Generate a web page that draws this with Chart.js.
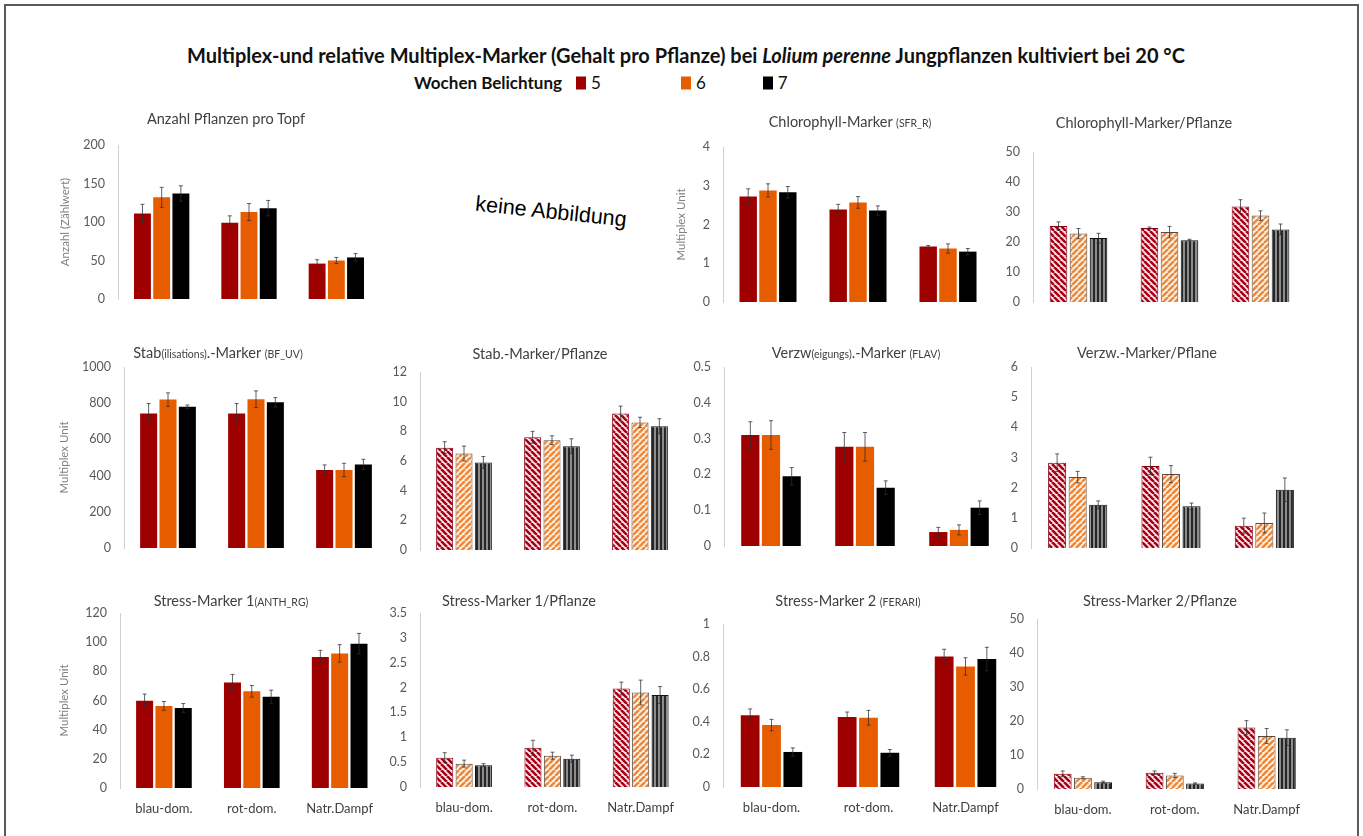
<!DOCTYPE html>
<html>
<head>
<meta charset="utf-8">
<script src="https://cdn.jsdelivr.net/npm/chart.js@4.4.1/dist/chart.umd.min.js"></script>
<style>
  html, body { margin: 0; padding: 0; background: #fff; }
  body { width: 1363px; height: 836px; position: relative; overflow: hidden; font-family: Lato, "Open Sans", sans-serif; }
  #frame { position: absolute; left: 4px; top: 4px; width: 1351px; height: 900px; border: 2px solid #5a5a5a; }
  .main-title { position: absolute; left: 686px; top: 55px; transform: translate(-50%, -50%); font-size: 20px; font-weight: 700; color: #111; white-space: nowrap; }
  .legend { position: absolute; top: 82px; left: 414px; transform: translateY(-50%); font-size: 17px; color: #111; white-space: nowrap; }
  .legend b { margin-right: 14px; }
  .legend .sw { display: inline-block; width: 10px; height: 13px; margin-right: 5px; vertical-align: -1px; }
  .legend .it { display: inline-block; }
  .ptitle { position: absolute; transform: translate(-50%, -50%); font-size: 14.5px; color: #404040; white-space: nowrap; }
  .ptitle .sm { font-size: 10.5px; }
  .chartbox { position: absolute; }
  #keine { position: absolute; left: 551px; top: 212px; transform: translate(-50%, -50%) rotate(6deg); font-family: "Liberation Sans", Arial, sans-serif; font-size: 21.5px; color: #000; white-space: nowrap; }
</style>
</head>
<body>
<div id="frame"></div>
<div class="main-title">Multiplex-und relative Multiplex-Marker (Gehalt pro Pflanze) bei <i>Lolium perenne</i> Jungpflanzen kultiviert bei 20 °C</div>
<div class="legend"><b>Wochen Belichtung</b><span class="it" style="margin-right:80px"><span class="sw" style="background:#9e0000"></span>5</span><span class="it" style="margin-right:57px"><span class="sw" style="background:#e85c00"></span>6</span><span class="it"><span class="sw" style="background:#000"></span>7</span></div>
<div id="keine">keine Abbildung</div>
<div id="charts"></div>

<script>
// ---- data (series order: 5, 6, 7 Wochen) ----
const categories = ['blau-dom.', 'rot-dom.', 'Natr.Dampf'];
const weeks = ['5', '6', '7'];

const anzahl = [[111, 99, 46], [132, 113, 50], [137, 118, 54]];
const anzahlErr = [[12, 9, 5], [13, 11, 4], [10, 10, 5]];

const chloro = [[2.72, 2.39, 1.43], [2.88, 2.57, 1.38], [2.83, 2.36, 1.30]];
const chloroErr = [[0.2, 0.13, 0.03], [0.17, 0.15, 0.12], [0.15, 0.12, 0.08]];

const chloroPfl = [[25.3, 24.7, 31.8], [22.8, 23.3, 28.8], [21.3, 20.6, 24.2]];
const chloroPflErr = [[1.4, 0.3, 2.3], [1.7, 1.9, 1.6], [1.6, 0.3, 1.8]];

const stab = [[743, 743, 431], [820, 822, 431], [780, 805, 462]];
const stabErr = [[55, 55, 28], [37, 46, 37], [10, 26, 28]];

const stabPfl = [[6.9, 7.6, 9.2], [6.5, 7.4, 8.6], [5.9, 7.0, 8.35]];
const stabPflErr = [[0.4, 0.4, 0.5], [0.5, 0.3, 0.35], [0.4, 0.5, 0.5]];

const verzw = [[0.31, 0.277, 0.039], [0.31, 0.277, 0.045], [0.195, 0.163, 0.107]];
const verzwErr = [[0.037, 0.04, 0.013], [0.04, 0.04, 0.014], [0.024, 0.019, 0.019]];

const verzwPfl = [[2.83, 2.72, 0.74], [2.35, 2.45, 0.83], [1.43, 1.38, 1.93]];
const verzwPflErr = [[0.29, 0.29, 0.25], [0.19, 0.28, 0.33], [0.13, 0.11, 0.39]];

const stress1 = [[59.9, 72.4, 89.9], [56.3, 66.3, 92.3], [54.9, 62.6, 99]];
const stress1Err = [[4.5, 5.5, 4.5], [3, 4, 6], [3, 4.5, 7]];

const stress1Pfl = [[0.59, 0.79, 1.98], [0.47, 0.63, 1.90], [0.44, 0.57, 1.85]];
const stress1PflErr = [[0.1, 0.15, 0.13], [0.07, 0.07, 0.25], [0.03, 0.07, 0.17]];

const stress2 = [[0.44, 0.43, 0.80], [0.38, 0.425, 0.74], [0.215, 0.21, 0.785]];
const stress2Err = [[0.039, 0.03, 0.045], [0.035, 0.045, 0.053], [0.025, 0.02, 0.072]];

const stress2Pfl = [[4.5, 4.8, 18.1], [3.3, 4.0, 15.6], [2.0, 1.6, 15.1]];
const stress2PflErr = [[0.8, 0.5, 2], [0.3, 0.6, 2.2], [0.3, 0.2, 2.3]];

// ---- colours / patterns ----
const solidColors = ['#9e0000', '#e85c00', '#000000'];

function stripes(bg, fg, dir, size, lw) {
  const c = document.createElement('canvas');
  c.width = c.height = size;
  const g = c.getContext('2d');
  g.fillStyle = bg;
  g.fillRect(0, 0, size, size);
  g.strokeStyle = fg;
  g.lineWidth = lw;
  g.beginPath();
  if (dir === 'v') {
    g.moveTo(size / 2, 0); g.lineTo(size / 2, size);
  } else {
    for (let k = -size; k <= size; k += size) {
      if (dir === '\\') { g.moveTo(k, 0); g.lineTo(k + size, size); }
      else { g.moveTo(k, size); g.lineTo(k + size, 0); }
    }
  }
  g.stroke();
  return g.createPattern(c, 'repeat');
}

const hatchFill = [
  stripes('#fbe9e9', '#a8001a', '\\', 6, 2.6),
  stripes('#fff4ea', '#ec8a3c', '/', 6, 2.6),
  stripes('#9a9a9a', '#262626', 'v', 4, 2.2)
];
const hatchBorder = ['#8a0010', '#5a4a40', '#111111'];

// ---- error bars ----
const errorBars = {
  id: 'errorBars',
  afterDatasetsDraw(chart) {
    const ctx = chart.ctx;
    const yScale = chart.scales.y;
    chart.data.datasets.forEach((ds, i) => {
      chart.getDatasetMeta(i).data.forEach((bar, j) => {
        const v = ds.data[j], e = ds.errors[j];
        const top = yScale.getPixelForValue(v + e);
        const bot = yScale.getPixelForValue(Math.max(0, v - e));
        ctx.save();
        ctx.strokeStyle = 'rgba(45,45,45,0.75)';
        ctx.lineWidth = 1;
        ctx.beginPath();
        ctx.moveTo(bar.x, top); ctx.lineTo(bar.x, bot);
        ctx.moveTo(bar.x - 2, top); ctx.lineTo(bar.x + 2, top);
        ctx.moveTo(bar.x - 2, bot); ctx.lineTo(bar.x + 2, bot);
        ctx.stroke();
        ctx.restore();
      });
    });
  }
};

// ---- panels ----
const panels = [
  { title: 'Anzahl Pflanzen pro Topf', tx: 226, ty: 118, data: anzahl, err: anzahlErr, hatched: false,
    axisX: 118, right: 380, yTop: 145, y0: 299, max: 200, step: 50, yTitle: 'Anzahl (Zählwert)', yTitleX: 65 },
  { title: 'Chlorophyll-Marker <span class="sm">(SFR_R)</span>', tx: 850, ty: 121, data: chloro, err: chloroErr, hatched: false,
    axisX: 723, right: 993, yTop: 147, y0: 302, max: 4, step: 1, yTitle: 'Multiplex Unit', yTitleX: 681 },
  { title: 'Chlorophyll-Marker/Pflanze', tx: 1144, ty: 122, data: chloroPfl, err: chloroPflErr, hatched: true,
    axisX: 1033, right: 1306, yTop: 152, y0: 302, max: 50, step: 10 },
  { title: 'Stab<span class="sm">(ilisations)</span>.-Marker <span class="sm">(BF_UV)</span>', tx: 218, ty: 352, data: stab, err: stabErr, hatched: false,
    axisX: 124, right: 388, yTop: 367, y0: 548, max: 1000, step: 200, yTitle: 'Multiplex Unit', yTitleX: 64 },
  { title: 'Stab.-Marker/Pflanze', tx: 540, ty: 353, data: stabPfl, err: stabPflErr, hatched: true,
    axisX: 420, right: 684, yTop: 372, y0: 550, max: 12, step: 2 },
  { title: 'Verzw<span class="sm">(eigungs)</span>.-Marker <span class="sm">(FLAV)</span>', tx: 856, ty: 352, data: verzw, err: verzwErr, hatched: false,
    axisX: 724, right: 1006, yTop: 367, y0: 546, max: 0.5, step: 0.1 },
  { title: 'Verzw.-Marker/Pflane', tx: 1147, ty: 352, data: verzwPfl, err: verzwPflErr, hatched: true,
    axisX: 1031, right: 1311, yTop: 367, y0: 548, max: 6, step: 1 },
  { title: 'Stress-Marker 1<span class="sm">(ANTH_RG)</span>', tx: 231, ty: 600, data: stress1, err: stress1Err, hatched: false,
    axisX: 120, right: 386, yTop: 613, y0: 788, max: 120, step: 20, yTitle: 'Multiplex Unit', yTitleX: 64, xLabels: true },
  { title: 'Stress-Marker 1/Pflanze', tx: 519, ty: 600, data: stress1Pfl, err: stress1PflErr, hatched: true,
    axisX: 420, right: 687, yTop: 613, y0: 787, max: 3.5, step: 0.5, xLabels: true },
  { title: 'Stress-Marker 2 <span class="sm">(FERARI)</span>', tx: 848, ty: 600, data: stress2, err: stress2Err, hatched: false,
    axisX: 723, right: 1014, yTop: 624, y0: 787, max: 1, step: 0.2, xLabels: true },
  { title: 'Stress-Marker 2/Pflanze', tx: 1160, ty: 600, data: stress2Pfl, err: stress2PflErr, hatched: true,
    axisX: 1037, right: 1313, yTop: 619, y0: 789, max: 50, step: 10, xLabels: true }
];

const host = document.getElementById('charts');
const tickFont = { family: 'Lato, "Open Sans", sans-serif', size: 12.5 };

panels.forEach(p => {
  const t = document.createElement('div');
  t.className = 'ptitle';
  t.style.left = p.tx + 'px';
  t.style.top = p.ty + 'px';
  t.innerHTML = p.title;
  document.body.appendChild(t);

  // y tick padding is also added above/below the axis by Chart.js, so leave room for it
  const yWidth = p.yTitle ? Math.round(p.axisX - p.yTitleX + 10.6) : 45;
  const padTop = 23;
  const xHeight = p.xLabels ? 36 : 23;
  const left = p.axisX - yWidth;
  const top = p.yTop - padTop;
  const w = p.right - left;
  const h = (p.y0 - p.yTop) + padTop + xHeight;

  const box = document.createElement('div');
  box.className = 'chartbox';
  box.style.left = left + 'px';
  box.style.top = top + 'px';
  const canvas = document.createElement('canvas');
  canvas.width = w; canvas.height = h;
  canvas.style.width = w + 'px'; canvas.style.height = h + 'px';
  box.appendChild(canvas);
  host.appendChild(box);

  new Chart(canvas, {
    type: 'bar',
    data: {
      labels: categories,
      datasets: weeks.map((wk, i) => ({
        label: wk,
        data: p.data[i],
        errors: p.err[i],
        backgroundColor: p.hatched ? hatchFill[i] : solidColors[i],
        borderColor: p.hatched ? hatchBorder[i] : solidColors[i],
        borderWidth: p.hatched ? 1 : 0,
        categoryPercentage: 0.66,
        barPercentage: 0.88
      }))
    },
    options: {
      responsive: false,
      animation: false,
      devicePixelRatio: 1,
      layout: { padding: { top: padTop, right: 0, bottom: 0, left: 0 } },
      plugins: { legend: { display: false }, tooltip: { enabled: false } },
      scales: {
        x: {
          grid: { display: false, drawTicks: false },
          border: { display: false },
          ticks: { display: !!p.xLabels, color: '#404040', font: { family: tickFont.family, size: 13 }, padding: 13, maxRotation: 0 },
          afterFit: s => { s.height = xHeight; }
        },
        y: {
          min: 0, max: p.max,
          grid: { display: false, drawTicks: false },
          border: { display: true, color: '#d0d0d0', width: 1 },
          ticks: { stepSize: p.step, color: '#595959', font: tickFont, padding: 13,
                   callback: v => String(+v.toFixed(2)) },
          title: p.yTitle ? { display: true, text: p.yTitle, color: '#808080', font: { family: tickFont.family, size: 11.5 }, padding: { top: 4, bottom: 4 } } : { display: false },
          afterFit: s => { s.width = yWidth; }
        }
      }
    },
    plugins: [errorBars]
  });
});
</script>
</body>
</html>
